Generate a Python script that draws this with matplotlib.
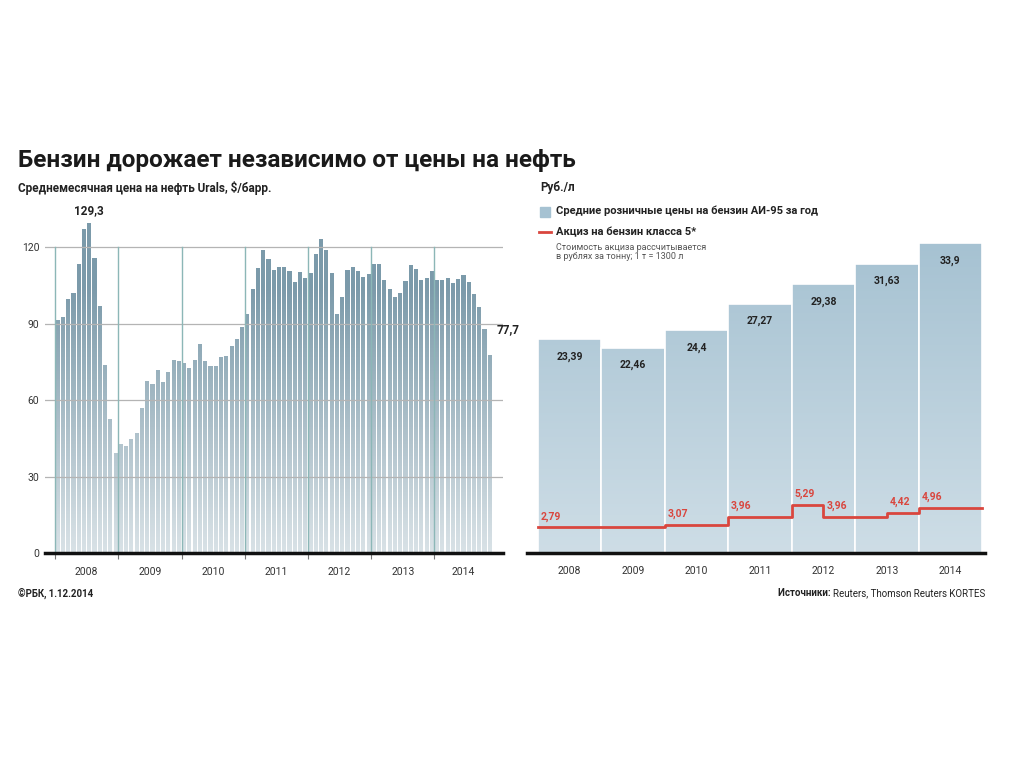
import numpy as np
import matplotlib
matplotlib.use("Agg")
import matplotlib.pyplot as plt

plt.rcParams['font.family'] = ['Roboto', 'DejaVu Sans']

# =============================================================================
# DATOS
# =============================================================================

# Urals, среднемесячная цена, $/барр. (янв 2008 - ноя 2014)
urals_2008 = [91.3, 92.6, 99.5, 102.0, 113.2, 127.0, 129.3, 115.6, 96.9, 73.6, 52.4, 39.4]
urals_2009 = [42.6, 42.0, 44.6, 47.0, 57.0, 67.5, 66.2, 71.6, 67.0, 71.0, 75.7, 75.3]
urals_2010 = [74.7, 72.4, 75.7, 81.8, 75.3, 73.3, 73.3, 76.7, 77.3, 81.2, 84.0, 88.8]
urals_2011 = [93.6, 103.4, 111.6, 118.8, 115.2, 111.0, 112.0, 112.0, 110.6, 106.3, 110.4, 107.7]
urals_2012 = [109.7, 117.4, 123.0, 118.7, 109.7, 93.9, 100.5, 111.0, 112.2, 110.6, 108.4, 109.5]
urals_2013 = [113.5, 113.5, 107.0, 103.7, 100.5, 102.1, 106.7, 112.9, 111.3, 107.0, 107.9, 110.6]
urals_2014 = [107.0, 107.0, 107.7, 106.0, 107.6, 108.9, 106.3, 101.7, 96.6, 88.0, 77.7]
urals = urals_2008 + urals_2009 + urals_2010 + urals_2011 + urals_2012 + urals_2013 + urals_2014

years = ["2008", "2009", "2010", "2011", "2012", "2013", "2014"]
urals_yticks = [0, 30, 60, 90, 120]

# АИ-95, руб./л
ai95 = [23.39, 22.46, 24.4, 27.27, 29.38, 31.63, 33.9]

# Акциз на бензин класса 5, руб./л (начало периода в годах)
excise_from = [2008.0, 2010.0, 2011.0, 2012.0, 2012.5, 2013.5, 2014.0]
excise_to = 2015.0
excise = [2.79, 3.07, 3.96, 5.29, 3.96, 4.42, 4.96]

# =============================================================================
# ESTILO
# =============================================================================

W, H = 1024, 767
BAR_LEFT = '#7b9aaa'
BAR_RIGHT = '#a6c2d2'
GRID = '#b4b4b4'
YEAR_LINE = '#8cb7b7'
RED = '#d9463e'
TXT = '#222222'


def fx(px):
    return px / W


def fy(py):
    return 1 - py / H


def white_fade(ax, x0, x1, y_top, a_bottom, z):
    """Degradado blanco que aclara las barras hacia abajo"""
    n = 256
    grad = np.ones((n, 1, 4))
    grad[:, 0, 3] = np.linspace(a_bottom, 0, n)
    ax.imshow(grad, extent=[x0, x1, 0, y_top], origin='lower',
              aspect='auto', zorder=z, interpolation='bilinear')


fig = plt.figure(figsize=(W / 100, H / 100), dpi=100)
fig.patch.set_facecolor('white')

# =============================================================================
# GRÁFICO IZQUIERDO: Urals
# =============================================================================

ax1 = fig.add_axes([fx(45), fy(553), fx(503 - 45), (553 - 208.8) / H])
n = len(urals)
xs = np.arange(n) + 0.5
xlim1 = (-1.9, 85.0)
ylim1 = (0, 135)

ax1.bar(xs, urals, width=0.78, color=BAR_LEFT, zorder=1)
white_fade(ax1, xlim1[0], xlim1[1], 105, 0.72, 2)

for v in urals_yticks[1:]:
    ax1.axhline(v, color=GRID, lw=0.9, zorder=3)
for k in range(len(years)):
    ax1.plot([12 * k, 12 * k], [0, 120], color=YEAR_LINE, lw=1.0, zorder=3)

ax1.set_xlim(*xlim1)
ax1.set_ylim(*ylim1)
for s in ['top', 'right', 'left']:
    ax1.spines[s].set_visible(False)
ax1.spines['bottom'].set_linewidth(2.5)
ax1.spines['bottom'].set_color('#111111')
ax1.spines['bottom'].set_zorder(5)

ax1.set_yticks(urals_yticks)
ax1.set_yticklabels([str(v) for v in urals_yticks])
ax1.tick_params(axis='y', length=0, pad=4, labelsize=7.5, labelcolor='#333333')

ax1.set_xticks([12 * k for k in range(len(years))])
ax1.set_xticklabels([])
ax1.tick_params(axis='x', which='major', length=4, width=0.8, color='#777777')
centers = [12 * k + 6 for k in range(len(years) - 1)] + [(72 + n) / 2]
ax1.set_xticks(centers, minor=True)
ax1.set_xticklabels(years, minor=True)
ax1.tick_params(axis='x', which='minor', length=0, pad=10, labelsize=7.5,
                labelcolor='#333333')

i_max = int(np.argmax(urals))
ax1.text(xs[i_max], urals[i_max] + 2.5, f"{urals[i_max]:.1f}".replace('.', ','),
         ha='center', va='bottom', fontsize=8.5, fontweight='bold', color=TXT)
ax1.annotate(f"{urals[-1]:.1f}".replace('.', ','), xy=(xs[-1], urals[-1]),
             xytext=(5, 18), textcoords='offset points', ha='left', va='center',
             fontsize=8.5, fontweight='bold', color=TXT, annotation_clip=False)

# =============================================================================
# GRÁFICO DERECHO: АИ-95 y акциз
# =============================================================================

ax2 = fig.add_axes([fx(527), fy(553), fx(985 - 527), (553 - 214.8) / H])
bx = np.arange(len(ai95))
xlim2 = (-0.673, 6.547)

ax2.bar(bx, ai95, width=1.0, color=BAR_RIGHT, edgecolor='white', linewidth=1.2,
        zorder=1)
white_fade(ax2, xlim2[0], xlim2[1], 34, 0.45, 2)

for x, v in zip(bx, ai95):
    lab = f"{v:g}".replace('.', ',')
    ax2.text(x, v - 1.9, lab, ha='center', va='center', fontsize=7.5,
             fontweight='bold', color=TXT, zorder=4)

ex_x = [y - 2008 - 0.5 for y in excise_from] + [excise_to - 2008 - 0.5]
ex_y = excise + [excise[-1]]
ax2.step(ex_x, ex_y, where='post', color=RED, lw=2.0, zorder=4)
for x, v in zip(ex_x[:-1], excise):
    ax2.annotate(f"{v:.2f}".replace('.', ','), xy=(x, v), xytext=(2, 4),
                 textcoords='offset points', ha='left', va='bottom',
                 fontsize=7.5, fontweight='bold', color=RED, zorder=5)

ax2.set_xlim(*xlim2)
ax2.set_ylim(0, 37)
for s in ['top', 'right', 'left']:
    ax2.spines[s].set_visible(False)
ax2.spines['bottom'].set_linewidth(2.5)
ax2.spines['bottom'].set_color('#111111')
ax2.spines['bottom'].set_zorder(5)
ax2.set_yticks([])
ax2.set_xticks(bx)
ax2.set_xticklabels(years)
ax2.tick_params(axis='x', length=0, pad=9, labelsize=7.5, labelcolor='#333333')

# =============================================================================
# TEXTOS
# =============================================================================

fig.text(fx(18), fy(160), "Бензин дорожает независимо от цены на нефть",
         ha='left', va='center', fontsize=17.5, fontweight='bold', color='#1a1a1a')
fig.text(fx(18), fy(188), "Среднемесячная цена на нефть Urals, $/барр.",
         ha='left', va='center', fontsize=8.5, fontweight='bold', color=TXT)
fig.text(fx(540), fy(188), "Руб./л", ha='left', va='center', fontsize=8.5,
         fontweight='bold', color=TXT)

fig.patches.append(plt.Rectangle((fx(540), fy(217)), fx(10), 10 / H,
                                 transform=fig.transFigure, color=BAR_RIGHT))
fig.text(fx(556), fy(211), "Средние розничные цены на бензин АИ-95 за год",
         ha='left', va='center', fontsize=8, fontweight='bold', color=TXT)
fig.add_artist(plt.Line2D([fx(539), fx(551)], [fy(232), fy(232)], color=RED,
                          lw=2, transform=fig.transFigure))
fig.text(fx(556), fy(232), "Акциз на бензин класса 5*", ha='left', va='center',
         fontsize=8, fontweight='bold', color=TXT)
fig.text(fx(556), fy(252), "Стоимость акциза рассчитывается\nв рублях за тонну; 1 т = 1300 л",
         ha='left', va='center', fontsize=6.5, color='#555555', linespacing=1.1)

fig.text(fx(18), fy(593), "©РБК, 1.12.2014", ha='left', va='center',
         fontsize=7, fontweight='bold', color=TXT)
src = fig.text(fx(985), fy(593), "Reuters, Thomson Reuters KORTES", ha='right',
               va='center', fontsize=7, color=TXT)
fig.text(0, 0, "")
plt.annotate("Источники: ", xy=(0, 0.5), xycoords=src, ha='right', va='center',
             fontsize=7, fontweight='bold', color=TXT)

fig.savefig("out.png", dpi=100, facecolor='white')
